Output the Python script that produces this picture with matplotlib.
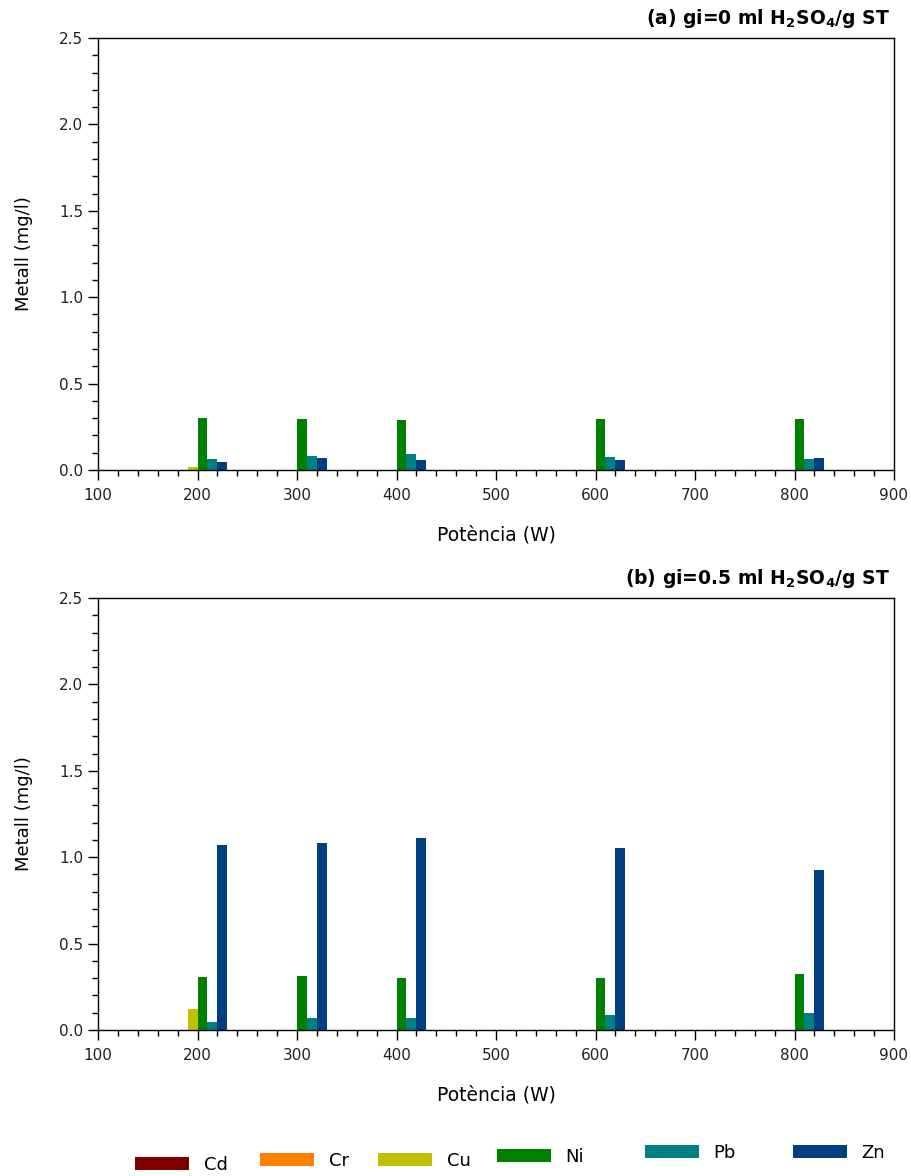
import matplotlib
matplotlib.use("Agg")
import matplotlib.pyplot as plt
import numpy as np
from matplotlib.ticker import MultipleLocator

plt.rcParams['font.family'] = ['DejaVu Sans']
plt.rcParams['mathtext.fontset'] = 'dejavusans'
plt.rcParams['mathtext.default'] = 'bf'

potencia = [200, 300, 400, 600, 800]
metals = ['Cd', 'Cr', 'Cu', 'Ni', 'Pb', 'Zn']
colors = ['#800000', '#FF8000', '#C0C000', '#008000', '#008080', '#004080']

# panel (a) gi=0
a_Cd = [0.0, 0.0, 0.0, 0.0, 0.0]
a_Cr = [0.0, 0.0, 0.0, 0.0, 0.0]
a_Cu = [0.015, 0.0, 0.0, 0.0, 0.0]
a_Ni = [0.30, 0.295, 0.29, 0.297, 0.293]
a_Pb = [0.064, 0.08, 0.095, 0.075, 0.064]
a_Zn = [0.046, 0.07, 0.058, 0.058, 0.07]

# panel (b) gi=0.5
b_Cd = [0.0, 0.0, 0.0, 0.0, 0.0]
b_Cr = [0.0, 0.0, 0.0, 0.0, 0.0]
b_Cu = [0.12, 0.0, 0.0, 0.0, 0.0]
b_Ni = [0.305, 0.313, 0.299, 0.30, 0.324]
b_Pb = [0.048, 0.068, 0.071, 0.085, 0.10]
b_Zn = [1.07, 1.082, 1.11, 1.053, 0.925]

titles = [r'(a) gi=0 ml H$_2$SO$_4$/g ST', r'(b) gi=0.5 ml H$_2$SO$_4$/g ST']
panels = [[a_Cd, a_Cr, a_Cu, a_Ni, a_Pb, a_Zn], [b_Cd, b_Cr, b_Cu, b_Ni, b_Pb, b_Zn]]

W, H = 912, 1176
fig = plt.figure(figsize=(W / 100, H / 100), dpi=100)

ax_boxes = [(98, 38, 894, 470), (98, 598, 894, 1030)]
bar_w = 10
offsets = [-30, -20, -10, 0, 10, 20]
x = np.array(potencia, dtype=float)

handles = []
for (l, t, r, b), title, series in zip(ax_boxes, titles, panels):
    ax = fig.add_axes([l / W, 1 - b / H, (r - l) / W, (b - t) / H])
    hs = []
    for vals, off, c, m in zip(series, offsets, colors, metals):
        h = ax.bar(x + off, vals, width=bar_w, align='edge', color=c, label=m,
                   edgecolor='none')
        hs.append(h)
    handles = hs
    ax.set_xlim(100, 900)
    ax.set_ylim(0, 2.5)
    ax.xaxis.set_major_locator(MultipleLocator(100))
    ax.xaxis.set_minor_locator(MultipleLocator(20))
    ax.yaxis.set_major_locator(MultipleLocator(0.5))
    ax.yaxis.set_minor_locator(MultipleLocator(0.1))
    ax.yaxis.set_major_formatter(matplotlib.ticker.FormatStrFormatter('%.1f'))
    ax.tick_params(which='major', direction='out', length=7, width=1, labelsize=11,
                   labelcolor='#222222')
    ax.tick_params(axis='x', which='major', pad=6)
    ax.tick_params(which='minor', direction='out', length=4, width=1)
    for s in ax.spines.values():
        s.set_linewidth(1)
    ax.set_xlabel('Potència (W)', fontsize=13.5, labelpad=16)
    ax.set_ylabel('Metall (mg/l)', fontsize=13, labelpad=19)
    ax.text(1.0 - 4 / (r - l), 1 + 8 / (b - t), title, transform=ax.transAxes,
            ha='right', va='bottom', fontsize=13.5, fontweight='bold')

# legend entries, individually placed
leg_pos = [(135, 1165), (260, 1161), (378, 1161), (497, 1157), (645, 1153), (793, 1153)]
for h, m, (px, py) in zip(handles, metals, leg_pos):
    fig.legend([h], [m], loc='center left', bbox_to_anchor=(px / W, 1 - py / H),
               frameon=False, fontsize=13, handlelength=3.0, handleheight=0.7,
               handletextpad=0.8, borderpad=0, borderaxespad=0)

fig.savefig('out.png', dpi=100)
